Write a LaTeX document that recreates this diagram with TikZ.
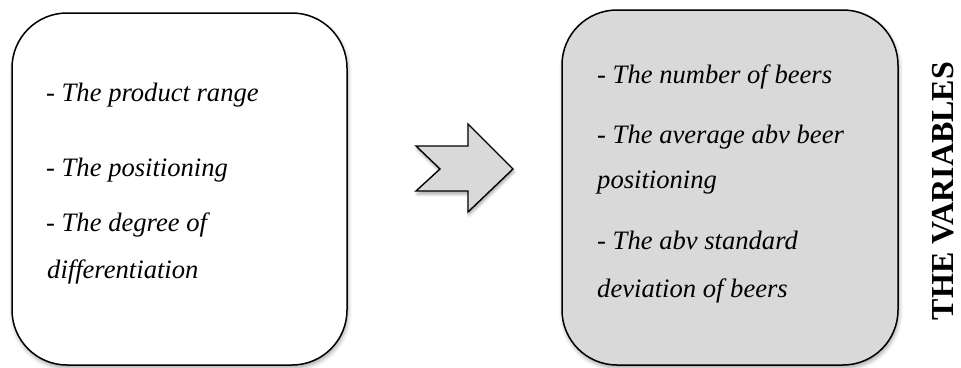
\documentclass[tikz,border=0pt]{standalone}
\usepackage{fontspec}
\setmainfont{Liberation Serif}
\usetikzlibrary{shadows.blur}
\definecolor{panelgray}{HTML}{D9D9D9}
\tikzset{
  panel/.style={draw=black, line width=1.5pt, rounded corners=55pt,
    inner sep=0pt, minimum width=#1,
    blur shadow={shadow xshift=1pt, shadow yshift=-3pt,
      shadow blur radius=4pt, shadow opacity=35}},
  item/.style={anchor=base west, inner sep=0pt,
    font=\fontsize{26.6}{30}\selectfont\itshape},
  title/.style={anchor=base, inner sep=0pt, rotate=90,
    font=\fontsize{32}{36}\selectfont\bfseries},
  pointer/.style={draw=black, line width=1.4pt, fill=panelgray, line join=miter,
    blur shadow={shadow xshift=1pt, shadow yshift=-3pt,
      shadow blur radius=3pt, shadow opacity=35}}
}
\begin{document}
\begin{tikzpicture}[x=1pt, y=-1pt]
  \useasboundingbox (0,0) rectangle (961,367);

  % source panel
  \node[panel=335pt, minimum height=352pt, fill=white] (src) at (179.5,189) {};
  \node[item] (s1) at (46,101) {- The product range};
  \node[item] (s2) at (46,176) {- The positioning};
  \node[item] (s3) at (46,231) {- The degree of};
  \node[item] (s4) at (47,278) {differentiation};

  % notched arrow between the panels
  \draw[pointer] (416,146) -- (468,146) -- (468,124) -- (513,169)
    -- (468,212) -- (468,191) -- (416,191) -- (440,169) -- cycle;

  % variables panel
  \node[panel=336pt, minimum height=355pt, fill=panelgray] (var) at (730,187.5) {};
  \node[item] (v1) at (597,83) {- The number of beers};
  \node[item] (v2) at (597,143) {- The average abv beer};
  \node[item] (v3) at (597,188) {positioning};
  \node[item] (v4) at (597,249) {- The abv standard};
  \node[item] (v5) at (597,297) {deviation of beers};

  % side heading
  \node[title] (head) at (953,191) {THE VARIABLES};
\end{tikzpicture}
\end{document}
